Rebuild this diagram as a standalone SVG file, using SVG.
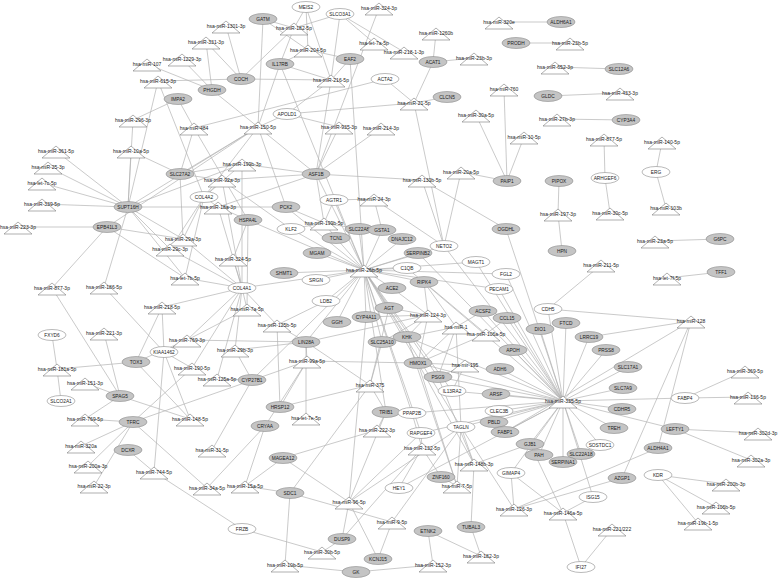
<svg xmlns="http://www.w3.org/2000/svg" width="778" height="579" viewBox="0 0 778 579">
<style>
.e line{stroke:#b3b3b3;stroke-width:0.7}
.g ellipse{fill:#c4c4c4;stroke:#8c8c8c;stroke-width:0.6}
.w ellipse{fill:#fff;stroke:#8c8c8c;stroke-width:0.6}
.m polygon{fill:#fff;stroke:#7a7a7a;stroke-width:0.6}
text{font-family:"Liberation Sans",Arial,sans-serif;fill:#222;text-anchor:middle}
.g text,.w text{font-size:4.8px}
.m text{font-size:5px}
</style>
<rect width="778" height="579" fill="#fff"/>
<g id="edges" class="e">
<line x1="226" y1="26" x2="241" y2="79"/><line x1="206" y1="42" x2="241" y2="79"/><line x1="206" y1="42" x2="212" y2="90"/><line x1="182" y1="59" x2="212" y2="90"/><line x1="147" y1="64" x2="212" y2="90"/><line x1="158" y1="81" x2="241" y2="79"/><line x1="158" y1="81" x2="128" y2="207"/><line x1="158" y1="81" x2="204" y2="197"/><line x1="178" y1="99" x2="133" y2="120"/><line x1="178" y1="99" x2="194" y2="128"/><line x1="212" y1="90" x2="258" y2="127"/><line x1="241" y1="79" x2="331" y2="80"/><line x1="241" y1="79" x2="294" y2="28"/><line x1="263" y1="19" x2="258" y2="127"/><line x1="263" y1="19" x2="294" y2="28"/><line x1="263" y1="19" x2="308" y2="50"/><line x1="306" y1="7" x2="294" y2="28"/><line x1="306" y1="7" x2="308" y2="50"/><line x1="306" y1="7" x2="331" y2="80"/><line x1="340" y1="14" x2="294" y2="28"/><line x1="340" y1="14" x2="374" y2="43"/><line x1="340" y1="14" x2="404" y2="52"/><line x1="340" y1="14" x2="331" y2="80"/><line x1="379" y1="8" x2="316" y2="174"/><line x1="350" y1="59" x2="331" y2="80"/><line x1="350" y1="59" x2="308" y2="50"/><line x1="350" y1="59" x2="364" y2="270"/><line x1="280" y1="64" x2="331" y2="80"/><line x1="280" y1="64" x2="294" y2="28"/><line x1="280" y1="64" x2="258" y2="127"/><line x1="280" y1="64" x2="364" y2="270"/><line x1="280" y1="64" x2="308" y2="50"/><line x1="436" y1="33" x2="433" y2="62"/><line x1="433" y1="62" x2="474" y2="58"/><line x1="433" y1="62" x2="414" y2="103"/><line x1="385" y1="79" x2="414" y2="103"/><line x1="385" y1="79" x2="194" y2="128"/><line x1="447" y1="97" x2="414" y2="103"/><line x1="287" y1="114" x2="414" y2="103"/><line x1="287" y1="114" x2="258" y2="127"/><line x1="287" y1="114" x2="339" y2="127"/><line x1="287" y1="114" x2="331" y2="80"/><line x1="414" y1="103" x2="444" y2="246"/><line x1="499" y1="22" x2="561" y2="22"/><line x1="516" y1="43" x2="570" y2="43"/><line x1="555" y1="67" x2="619" y2="69"/><line x1="548" y1="96" x2="620" y2="93"/><line x1="557" y1="119" x2="626" y2="120"/><line x1="504" y1="89" x2="507" y2="181"/><line x1="476" y1="115" x2="507" y2="181"/><line x1="524" y1="137" x2="507" y2="181"/><line x1="461" y1="172" x2="507" y2="181"/><line x1="604" y1="139" x2="605" y2="178"/><line x1="662" y1="142" x2="656" y2="172"/><line x1="656" y1="172" x2="666" y2="208"/><line x1="559" y1="181" x2="558" y2="214"/><line x1="558" y1="214" x2="562" y2="251"/><line x1="605" y1="178" x2="610" y2="213"/><line x1="655" y1="241" x2="720" y2="239"/><line x1="667" y1="278" x2="721" y2="272"/><line x1="601" y1="265" x2="548" y2="309"/>
<line x1="258" y1="127" x2="316" y2="174"/><line x1="258" y1="127" x2="128" y2="207"/><line x1="258" y1="127" x2="180" y2="174"/><line x1="258" y1="127" x2="204" y2="197"/><line x1="258" y1="127" x2="107" y2="227"/><line x1="339" y1="127" x2="316" y2="174"/><line x1="381" y1="128" x2="316" y2="174"/><line x1="331" y1="80" x2="316" y2="174"/><line x1="316" y1="174" x2="422" y2="180"/><line x1="316" y1="174" x2="324" y2="223"/><line x1="316" y1="174" x2="364" y2="270"/><line x1="316" y1="174" x2="218" y2="207"/><line x1="316" y1="174" x2="222" y2="180"/><line x1="316" y1="174" x2="242" y2="164"/><line x1="422" y1="180" x2="444" y2="246"/><line x1="422" y1="180" x2="506" y2="229"/><line x1="461" y1="172" x2="444" y2="246"/><line x1="374" y1="199" x2="334" y2="200"/><line x1="374" y1="199" x2="444" y2="246"/><line x1="334" y1="200" x2="364" y2="270"/><line x1="334" y1="200" x2="324" y2="223"/><line x1="286" y1="207" x2="324" y2="223"/><line x1="286" y1="207" x2="364" y2="270"/><line x1="286" y1="207" x2="258" y2="127"/><line x1="286" y1="207" x2="218" y2="207"/><line x1="291" y1="229" x2="324" y2="223"/><line x1="291" y1="229" x2="364" y2="270"/><line x1="291" y1="229" x2="222" y2="180"/><line x1="248" y1="220" x2="218" y2="207"/><line x1="248" y1="220" x2="247" y2="309"/><line x1="248" y1="220" x2="364" y2="270"/><line x1="180" y1="174" x2="242" y2="164"/><line x1="180" y1="174" x2="183" y2="239"/><line x1="180" y1="174" x2="131" y2="151"/><line x1="180" y1="174" x2="222" y2="180"/><line x1="204" y1="197" x2="222" y2="180"/><line x1="204" y1="197" x2="218" y2="207"/><line x1="204" y1="197" x2="183" y2="239"/><line x1="204" y1="197" x2="170" y2="249"/><line x1="204" y1="197" x2="242" y2="164"/><line x1="204" y1="197" x2="185" y2="278"/>
<line x1="128" y1="207" x2="56" y2="151"/><line x1="128" y1="207" x2="131" y2="151"/><line x1="128" y1="207" x2="48" y2="167"/><line x1="128" y1="207" x2="42" y2="183"/><line x1="128" y1="207" x2="42" y2="204"/><line x1="128" y1="207" x2="218" y2="207"/><line x1="128" y1="207" x2="170" y2="249"/><line x1="128" y1="207" x2="185" y2="278"/><line x1="128" y1="207" x2="104" y2="287"/><line x1="128" y1="207" x2="133" y2="120"/><line x1="128" y1="207" x2="242" y2="164"/><line x1="128" y1="207" x2="183" y2="239"/><line x1="107" y1="227" x2="18" y2="227"/><line x1="107" y1="227" x2="52" y2="288"/><line x1="107" y1="227" x2="185" y2="278"/><line x1="107" y1="227" x2="183" y2="239"/><line x1="194" y1="128" x2="180" y2="174"/><line x1="194" y1="128" x2="248" y2="220"/>
<line x1="242" y1="288" x2="218" y2="207"/><line x1="242" y1="288" x2="183" y2="239"/><line x1="242" y1="288" x2="170" y2="249"/><line x1="242" y1="288" x2="233" y2="259"/><line x1="242" y1="288" x2="185" y2="278"/><line x1="242" y1="288" x2="222" y2="180"/><line x1="242" y1="288" x2="242" y2="164"/><line x1="242" y1="288" x2="162" y2="307"/><line x1="242" y1="288" x2="247" y2="309"/><line x1="242" y1="288" x2="187" y2="340"/><line x1="242" y1="288" x2="235" y2="350"/><line x1="242" y1="288" x2="217" y2="379"/><line x1="242" y1="288" x2="192" y2="368"/><line x1="242" y1="288" x2="364" y2="270"/><line x1="242" y1="288" x2="277" y2="325"/><line x1="233" y1="259" x2="248" y2="220"/><line x1="162" y1="307" x2="164" y2="352"/><line x1="162" y1="307" x2="136" y2="362"/><line x1="104" y1="287" x2="164" y2="352"/><line x1="52" y1="288" x2="120" y2="396"/><line x1="104" y1="333" x2="120" y2="396"/><line x1="52" y1="335" x2="57" y2="369"/><line x1="61" y1="401" x2="57" y2="369"/><line x1="57" y1="369" x2="136" y2="362"/><line x1="85" y1="383" x2="120" y2="396"/><line x1="187" y1="340" x2="164" y2="352"/><line x1="187" y1="340" x2="136" y2="362"/><line x1="247" y1="309" x2="164" y2="352"/><line x1="164" y1="352" x2="192" y2="368"/><line x1="164" y1="352" x2="190" y2="419"/><line x1="164" y1="352" x2="154" y2="472"/><line x1="136" y1="362" x2="190" y2="419"/><line x1="120" y1="396" x2="85" y2="419"/><line x1="120" y1="396" x2="190" y2="419"/><line x1="133" y1="422" x2="85" y2="419"/><line x1="133" y1="422" x2="81" y2="446"/><line x1="133" y1="422" x2="88" y2="466"/><line x1="133" y1="422" x2="94" y2="486"/><line x1="133" y1="422" x2="207" y2="488"/><line x1="133" y1="422" x2="307" y2="361"/><line x1="133" y1="422" x2="192" y2="368"/><line x1="128" y1="450" x2="154" y2="472"/><line x1="154" y1="472" x2="242" y2="529"/>
<line x1="252" y1="380" x2="217" y2="379"/><line x1="252" y1="380" x2="212" y2="450"/><line x1="252" y1="380" x2="235" y2="350"/><line x1="252" y1="380" x2="364" y2="270"/><line x1="265" y1="426" x2="245" y2="486"/><line x1="265" y1="426" x2="207" y2="488"/><line x1="265" y1="426" x2="307" y2="361"/><line x1="280" y1="407" x2="307" y2="361"/><line x1="280" y1="407" x2="370" y2="385"/><line x1="280" y1="407" x2="277" y2="325"/><line x1="306" y1="342" x2="277" y2="325"/><line x1="306" y1="342" x2="307" y2="361"/><line x1="306" y1="342" x2="306" y2="418"/><line x1="306" y1="342" x2="428" y2="315"/><line x1="306" y1="342" x2="364" y2="270"/><line x1="306" y1="342" x2="370" y2="385"/><line x1="306" y1="342" x2="187" y2="340"/><line x1="306" y1="342" x2="235" y2="350"/><line x1="283" y1="458" x2="349" y2="502"/><line x1="283" y1="458" x2="245" y2="486"/><line x1="283" y1="458" x2="377" y2="430"/><line x1="290" y1="493" x2="370" y2="385"/><line x1="290" y1="493" x2="392" y2="522"/><line x1="290" y1="493" x2="285" y2="565"/><line x1="290" y1="493" x2="245" y2="486"/><line x1="242" y1="529" x2="322" y2="552"/><line x1="342" y1="539" x2="349" y2="502"/><line x1="342" y1="539" x2="322" y2="552"/><line x1="342" y1="539" x2="422" y2="448"/><line x1="378" y1="559" x2="349" y2="502"/><line x1="378" y1="559" x2="392" y2="522"/><line x1="356" y1="572" x2="285" y2="565"/><line x1="356" y1="572" x2="433" y2="565"/><line x1="428" y1="531" x2="433" y2="565"/><line x1="428" y1="531" x2="481" y2="556"/><line x1="471" y1="527" x2="481" y2="556"/><line x1="471" y1="527" x2="474" y2="464"/>
<line x1="349" y1="502" x2="386" y2="412"/><line x1="349" y1="502" x2="421" y2="433"/><line x1="349" y1="502" x2="461" y2="427"/><line x1="349" y1="502" x2="366" y2="317"/><line x1="399" y1="488" x2="422" y2="448"/><line x1="399" y1="488" x2="563" y2="401"/><line x1="392" y1="522" x2="461" y2="427"/><line x1="441" y1="477" x2="422" y2="448"/><line x1="441" y1="477" x2="457" y2="486"/><line x1="457" y1="486" x2="461" y2="427"/><line x1="457" y1="486" x2="418" y2="363"/><line x1="457" y1="486" x2="407" y2="337"/><line x1="474" y1="464" x2="461" y2="427"/><line x1="474" y1="464" x2="418" y2="363"/><line x1="474" y1="464" x2="438" y2="377"/><line x1="474" y1="464" x2="530" y2="444"/><line x1="422" y1="448" x2="421" y2="433"/><line x1="422" y1="448" x2="412" y2="413"/><line x1="377" y1="430" x2="386" y2="412"/><line x1="370" y1="385" x2="386" y2="412"/><line x1="370" y1="385" x2="389" y2="308"/><line x1="370" y1="385" x2="382" y2="342"/>
<line x1="386" y1="412" x2="364" y2="270"/><line x1="412" y1="413" x2="364" y2="270"/><line x1="412" y1="413" x2="563" y2="401"/><line x1="461" y1="427" x2="563" y2="401"/><line x1="461" y1="427" x2="364" y2="270"/><line x1="461" y1="427" x2="456" y2="327"/><line x1="421" y1="433" x2="364" y2="270"/><line x1="421" y1="433" x2="563" y2="401"/><line x1="452" y1="391" x2="364" y2="270"/><line x1="452" y1="391" x2="465" y2="365"/><line x1="452" y1="391" x2="563" y2="401"/><line x1="438" y1="377" x2="465" y2="365"/><line x1="438" y1="377" x2="456" y2="327"/><line x1="438" y1="377" x2="364" y2="270"/><line x1="438" y1="377" x2="563" y2="401"/><line x1="418" y1="363" x2="465" y2="365"/><line x1="418" y1="363" x2="456" y2="327"/><line x1="418" y1="363" x2="428" y2="315"/><line x1="418" y1="363" x2="364" y2="270"/><line x1="418" y1="363" x2="563" y2="401"/><line x1="418" y1="363" x2="486" y2="334"/><line x1="418" y1="363" x2="307" y2="361"/><line x1="407" y1="337" x2="428" y2="315"/><line x1="407" y1="337" x2="456" y2="327"/><line x1="407" y1="337" x2="364" y2="270"/><line x1="407" y1="337" x2="563" y2="401"/><line x1="382" y1="342" x2="364" y2="270"/><line x1="382" y1="342" x2="428" y2="315"/><line x1="389" y1="308" x2="364" y2="270"/><line x1="389" y1="308" x2="428" y2="315"/><line x1="366" y1="317" x2="364" y2="270"/><line x1="366" y1="317" x2="428" y2="315"/><line x1="337" y1="322" x2="364" y2="270"/><line x1="326" y1="301" x2="364" y2="270"/><line x1="326" y1="301" x2="277" y2="325"/><line x1="316" y1="280" x2="364" y2="270"/><line x1="284" y1="273" x2="364" y2="270"/><line x1="317" y1="253" x2="364" y2="270"/><line x1="336" y1="238" x2="364" y2="270"/><line x1="359" y1="229" x2="364" y2="270"/><line x1="382" y1="230" x2="364" y2="270"/><line x1="402" y1="239" x2="364" y2="270"/><line x1="418" y1="253" x2="364" y2="270"/><line x1="407" y1="268" x2="364" y2="270"/><line x1="424" y1="282" x2="364" y2="270"/><line x1="392" y1="288" x2="364" y2="270"/><line x1="476" y1="262" x2="364" y2="270"/><line x1="506" y1="274" x2="364" y2="270"/><line x1="499" y1="289" x2="364" y2="270"/><line x1="444" y1="246" x2="364" y2="270"/><line x1="359" y1="229" x2="324" y2="223"/><line x1="336" y1="238" x2="324" y2="223"/><line x1="424" y1="282" x2="428" y2="315"/><line x1="424" y1="282" x2="456" y2="327"/><line x1="424" y1="282" x2="486" y2="334"/><line x1="392" y1="288" x2="428" y2="315"/><line x1="382" y1="230" x2="374" y2="199"/>
<line x1="483" y1="311" x2="456" y2="327"/><line x1="483" y1="311" x2="563" y2="401"/><line x1="507" y1="318" x2="563" y2="401"/><line x1="507" y1="318" x2="486" y2="334"/><line x1="513" y1="350" x2="563" y2="401"/><line x1="500" y1="369" x2="563" y2="401"/><line x1="496" y1="394" x2="563" y2="401"/><line x1="499" y1="411" x2="563" y2="401"/><line x1="494" y1="422" x2="563" y2="401"/><line x1="505" y1="432" x2="563" y2="401"/><line x1="548" y1="309" x2="563" y2="401"/><line x1="548" y1="309" x2="691" y2="321"/><line x1="540" y1="329" x2="563" y2="401"/><line x1="566" y1="323" x2="563" y2="401"/><line x1="589" y1="337" x2="563" y2="401"/><line x1="589" y1="337" x2="691" y2="321"/><line x1="606" y1="350" x2="563" y2="401"/><line x1="628" y1="367" x2="563" y2="401"/><line x1="623" y1="388" x2="563" y2="401"/><line x1="622" y1="409" x2="563" y2="401"/><line x1="614" y1="428" x2="563" y2="401"/><line x1="675" y1="429" x2="563" y2="401"/><line x1="530" y1="444" x2="563" y2="401"/><line x1="539" y1="455" x2="563" y2="401"/><line x1="563" y1="462" x2="563" y2="401"/><line x1="581" y1="454" x2="563" y2="401"/><line x1="600" y1="445" x2="563" y2="401"/><line x1="511" y1="473" x2="563" y2="401"/><line x1="563" y1="401" x2="593" y2="497"/><line x1="593" y1="497" x2="563" y2="513"/><line x1="563" y1="513" x2="581" y2="567"/><line x1="612" y1="529" x2="581" y2="567"/><line x1="563" y1="513" x2="511" y2="473"/><line x1="563" y1="513" x2="530" y2="444"/><line x1="514" y1="509" x2="658" y2="448"/><line x1="514" y1="509" x2="622" y2="478"/><line x1="514" y1="509" x2="511" y2="473"/><line x1="514" y1="509" x2="461" y2="427"/><line x1="691" y1="321" x2="658" y2="448"/><line x1="691" y1="321" x2="622" y2="478"/><line x1="691" y1="321" x2="505" y2="432"/><line x1="685" y1="398" x2="745" y2="371"/><line x1="685" y1="398" x2="748" y2="397"/><line x1="685" y1="398" x2="563" y2="401"/><line x1="675" y1="429" x2="758" y2="433"/><line x1="675" y1="429" x2="751" y2="460"/><line x1="658" y1="475" x2="726" y2="484"/><line x1="658" y1="475" x2="716" y2="507"/><line x1="658" y1="475" x2="698" y2="523"/><line x1="506" y1="229" x2="563" y2="401"/><line x1="444" y1="246" x2="563" y2="401"/><line x1="476" y1="262" x2="563" y2="401"/><line x1="506" y1="274" x2="563" y2="401"/><line x1="499" y1="289" x2="563" y2="401"/><line x1="418" y1="253" x2="563" y2="401"/><line x1="407" y1="268" x2="563" y2="401"/>
</g>
<g id="nodes">
<g id="n-GATM" class="g"><ellipse cx="263" cy="19" rx="14" ry="5.5"/><text x="263" y="20.7">GATM</text></g>
<g id="n-MEIS2" class="w"><ellipse cx="306" cy="7" rx="14" ry="5.5"/><text x="306" y="8.7">MEIS2</text></g>
<g id="n-SLCO3A1" class="w"><ellipse cx="340" cy="14" rx="14" ry="5.5"/><text x="340" y="15.7">SLCO3A1</text></g>
<g id="n-EAF2" class="g"><ellipse cx="350" cy="59" rx="14" ry="5.5"/><text x="350" y="60.7">EAF2</text></g>
<g id="n-IL17RB" class="g"><ellipse cx="280" cy="64" rx="14" ry="5.5"/><text x="280" y="65.7">IL17RB</text></g>
<g id="n-ACAT1" class="g"><ellipse cx="433" cy="62" rx="14" ry="5.5"/><text x="433" y="63.7">ACAT1</text></g>
<g id="n-ACTA2" class="w"><ellipse cx="385" cy="79" rx="14" ry="5.5"/><text x="385" y="80.7">ACTA2</text></g>
<g id="n-CLCN5" class="g"><ellipse cx="447" cy="97" rx="14" ry="5.5"/><text x="447" y="98.7">CLCN5</text></g>
<g id="n-APOLD1" class="w"><ellipse cx="287" cy="114" rx="14" ry="5.5"/><text x="287" y="115.7">APOLD1</text></g>
<g id="n-COCH" class="g"><ellipse cx="241" cy="79" rx="14" ry="5.5"/><text x="241" y="80.7">COCH</text></g>
<g id="n-PHGDH" class="g"><ellipse cx="212" cy="90" rx="14" ry="5.5"/><text x="212" y="91.7">PHGDH</text></g>
<g id="n-IMPA2" class="g"><ellipse cx="178" cy="99" rx="14" ry="5.5"/><text x="178" y="100.7">IMPA2</text></g>
<g id="n-ALDH6A1" class="g"><ellipse cx="561" cy="22" rx="14" ry="5.5"/><text x="561" y="23.7">ALDH6A1</text></g>
<g id="n-PRODH" class="g"><ellipse cx="516" cy="43" rx="14" ry="5.5"/><text x="516" y="44.7">PRODH</text></g>
<g id="n-SLC12A6" class="g"><ellipse cx="619" cy="69" rx="14" ry="5.5"/><text x="619" y="70.7">SLC12A6</text></g>
<g id="n-GLDC" class="g"><ellipse cx="548" cy="96" rx="14" ry="5.5"/><text x="548" y="97.7">GLDC</text></g>
<g id="n-CYP3A4" class="g"><ellipse cx="626" cy="120" rx="14" ry="5.5"/><text x="626" y="121.7">CYP3A4</text></g>
<g id="n-SLC27A2" class="g"><ellipse cx="180" cy="174" rx="14" ry="5.5"/><text x="180" y="175.7">SLC27A2</text></g>
<g id="n-COL4A2" class="w"><ellipse cx="204" cy="197" rx="14" ry="5.5"/><text x="204" y="198.7">COL4A2</text></g>
<g id="n-SUPT16H" class="g"><ellipse cx="128" cy="207" rx="14" ry="5.5"/><text x="128" y="208.7">SUPT16H</text></g>
<g id="n-HSPA4L" class="g"><ellipse cx="248" cy="220" rx="14" ry="5.5"/><text x="248" y="221.7">HSPA4L</text></g>
<g id="n-EPB41L3" class="g"><ellipse cx="107" cy="227" rx="14" ry="5.5"/><text x="107" y="228.7">EPB41L3</text></g>
<g id="n-COL4A1" class="w"><ellipse cx="242" cy="288" rx="14" ry="5.5"/><text x="242" y="289.7">COL4A1</text></g>
<g id="n-ASF1B" class="g"><ellipse cx="316" cy="174" rx="14" ry="5.5"/><text x="316" y="175.7">ASF1B</text></g>
<g id="n-PAIP1" class="g"><ellipse cx="507" cy="181" rx="14" ry="5.5"/><text x="507" y="182.7">PAIP1</text></g>
<g id="n-AGTR1" class="w"><ellipse cx="334" cy="200" rx="14" ry="5.5"/><text x="334" y="201.7">AGTR1</text></g>
<g id="n-PCK2" class="g"><ellipse cx="286" cy="207" rx="14" ry="5.5"/><text x="286" y="208.7">PCK2</text></g>
<g id="n-KLF2" class="w"><ellipse cx="291" cy="229" rx="14" ry="5.5"/><text x="291" y="230.7">KLF2</text></g>
<g id="n-SLC22A8" class="g"><ellipse cx="359" cy="229" rx="14" ry="5.5"/><text x="359" y="230.7">SLC22A8</text></g>
<g id="n-GSTA1" class="g"><ellipse cx="382" cy="230" rx="14" ry="5.5"/><text x="382" y="231.7">GSTA1</text></g>
<g id="n-TCN1" class="g"><ellipse cx="336" cy="238" rx="14" ry="5.5"/><text x="336" y="239.7">TCN1</text></g>
<g id="n-DNAJC12" class="g"><ellipse cx="402" cy="239" rx="14" ry="5.5"/><text x="402" y="240.7">DNAJC12</text></g>
<g id="n-NETO2" class="w"><ellipse cx="444" cy="246" rx="14" ry="5.5"/><text x="444" y="247.7">NETO2</text></g>
<g id="n-OGDHL" class="g"><ellipse cx="506" cy="229" rx="14" ry="5.5"/><text x="506" y="230.7">OGDHL</text></g>
<g id="n-MGAM" class="g"><ellipse cx="317" cy="253" rx="14" ry="5.5"/><text x="317" y="254.7">MGAM</text></g>
<g id="n-SERPINB2" class="g"><ellipse cx="418" cy="253" rx="14" ry="5.5"/><text x="418" y="254.7">SERPINB2</text></g>
<g id="n-MAGT1" class="w"><ellipse cx="476" cy="262" rx="14" ry="5.5"/><text x="476" y="263.7">MAGT1</text></g>
<g id="n-C1QB" class="w"><ellipse cx="407" cy="268" rx="14" ry="5.5"/><text x="407" y="269.7">C1QB</text></g>
<g id="n-SHMT1" class="g"><ellipse cx="284" cy="273" rx="14" ry="5.5"/><text x="284" y="274.7">SHMT1</text></g>
<g id="n-SRGN" class="w"><ellipse cx="316" cy="280" rx="14" ry="5.5"/><text x="316" y="281.7">SRGN</text></g>
<g id="n-FGL2" class="w"><ellipse cx="506" cy="274" rx="14" ry="5.5"/><text x="506" y="275.7">FGL2</text></g>
<g id="n-RIPK4" class="g"><ellipse cx="424" cy="282" rx="14" ry="5.5"/><text x="424" y="283.7">RIPK4</text></g>
<g id="n-ACE2" class="g"><ellipse cx="392" cy="288" rx="14" ry="5.5"/><text x="392" y="289.7">ACE2</text></g>
<g id="n-PECAM1" class="w"><ellipse cx="499" cy="289" rx="14" ry="5.5"/><text x="499" y="290.7">PECAM1</text></g>
<g id="n-PIPOX" class="g"><ellipse cx="559" cy="181" rx="14" ry="5.5"/><text x="559" y="182.7">PIPOX</text></g>
<g id="n-ARHGEF6" class="w"><ellipse cx="605" cy="178" rx="14" ry="5.5"/><text x="605" y="179.7">ARHGEF6</text></g>
<g id="n-ERG" class="w"><ellipse cx="656" cy="172" rx="14" ry="5.5"/><text x="656" y="173.7">ERG</text></g>
<g id="n-HPN" class="g"><ellipse cx="562" cy="251" rx="14" ry="5.5"/><text x="562" y="252.7">HPN</text></g>
<g id="n-G6PC" class="g"><ellipse cx="720" cy="239" rx="14" ry="5.5"/><text x="720" y="240.7">G6PC</text></g>
<g id="n-TFF1" class="g"><ellipse cx="721" cy="272" rx="14" ry="5.5"/><text x="721" y="273.7">TFF1</text></g>
<g id="n-FXYD6" class="w"><ellipse cx="52" cy="335" rx="14" ry="5.5"/><text x="52" y="336.7">FXYD6</text></g>
<g id="n-KIAA1462" class="w"><ellipse cx="164" cy="352" rx="14" ry="5.5"/><text x="164" y="353.7">KIAA1462</text></g>
<g id="n-TOX3" class="g"><ellipse cx="136" cy="362" rx="14" ry="5.5"/><text x="136" y="363.7">TOX3</text></g>
<g id="n-CYP27B1" class="g"><ellipse cx="252" cy="380" rx="14" ry="5.5"/><text x="252" y="381.7">CYP27B1</text></g>
<g id="n-SLCO2A1" class="w"><ellipse cx="61" cy="401" rx="14" ry="5.5"/><text x="61" y="402.7">SLCO2A1</text></g>
<g id="n-SPAG5" class="g"><ellipse cx="120" cy="396" rx="14" ry="5.5"/><text x="120" y="397.7">SPAG5</text></g>
<g id="n-TFRC" class="g"><ellipse cx="133" cy="422" rx="14" ry="5.5"/><text x="133" y="423.7">TFRC</text></g>
<g id="n-CRYAA" class="g"><ellipse cx="265" cy="426" rx="14" ry="5.5"/><text x="265" y="427.7">CRYAA</text></g>
<g id="n-LDB2" class="w"><ellipse cx="326" cy="301" rx="14" ry="5.5"/><text x="326" y="302.7">LDB2</text></g>
<g id="n-AGT" class="g"><ellipse cx="389" cy="308" rx="14" ry="5.5"/><text x="389" y="309.7">AGT</text></g>
<g id="n-ACSF2" class="g"><ellipse cx="483" cy="311" rx="14" ry="5.5"/><text x="483" y="312.7">ACSF2</text></g>
<g id="n-CYP4A11" class="g"><ellipse cx="366" cy="317" rx="14" ry="5.5"/><text x="366" y="318.7">CYP4A11</text></g>
<g id="n-GGH" class="g"><ellipse cx="337" cy="322" rx="14" ry="5.5"/><text x="337" y="323.7">GGH</text></g>
<g id="n-CCL15" class="g"><ellipse cx="507" cy="318" rx="14" ry="5.5"/><text x="507" y="319.7">CCL15</text></g>
<g id="n-LIN28A" class="g"><ellipse cx="306" cy="342" rx="14" ry="5.5"/><text x="306" y="343.7">LIN28A</text></g>
<g id="n-SLC25A10" class="g"><ellipse cx="382" cy="342" rx="14" ry="5.5"/><text x="382" y="343.7">SLC25A10</text></g>
<g id="n-KHK" class="g"><ellipse cx="407" cy="337" rx="14" ry="5.5"/><text x="407" y="338.7">KHK</text></g>
<g id="n-APOH" class="g"><ellipse cx="513" cy="350" rx="14" ry="5.5"/><text x="513" y="351.7">APOH</text></g>
<g id="n-HMOX1" class="g"><ellipse cx="418" cy="363" rx="14" ry="5.5"/><text x="418" y="364.7">HMOX1</text></g>
<g id="n-ADH6" class="g"><ellipse cx="500" cy="369" rx="14" ry="5.5"/><text x="500" y="370.7">ADH6</text></g>
<g id="n-PSG9" class="g"><ellipse cx="438" cy="377" rx="14" ry="5.5"/><text x="438" y="378.7">PSG9</text></g>
<g id="n-IL13RA2" class="w"><ellipse cx="452" cy="391" rx="14" ry="5.5"/><text x="452" y="392.7">IL13RA2</text></g>
<g id="n-ARSF" class="g"><ellipse cx="496" cy="394" rx="14" ry="5.5"/><text x="496" y="395.7">ARSF</text></g>
<g id="n-HRSP12" class="g"><ellipse cx="280" cy="407" rx="14" ry="5.5"/><text x="280" y="408.7">HRSP12</text></g>
<g id="n-TRIB1" class="g"><ellipse cx="386" cy="412" rx="14" ry="5.5"/><text x="386" y="413.7">TRIB1</text></g>
<g id="n-PPAP2B" class="w"><ellipse cx="412" cy="413" rx="14" ry="5.5"/><text x="412" y="414.7">PPAP2B</text></g>
<g id="n-CLEC3B" class="w"><ellipse cx="499" cy="411" rx="14" ry="5.5"/><text x="499" y="412.7">CLEC3B</text></g>
<g id="n-PBLD" class="g"><ellipse cx="494" cy="422" rx="14" ry="5.5"/><text x="494" y="423.7">PBLD</text></g>
<g id="n-TAGLN" class="w"><ellipse cx="461" cy="427" rx="14" ry="5.5"/><text x="461" y="428.7">TAGLN</text></g>
<g id="n-RAPGEF4" class="w"><ellipse cx="421" cy="433" rx="14" ry="5.5"/><text x="421" y="434.7">RAPGEF4</text></g>
<g id="n-FABP1" class="g"><ellipse cx="505" cy="432" rx="14" ry="5.5"/><text x="505" y="433.7">FABP1</text></g>
<g id="n-CDH5" class="w"><ellipse cx="548" cy="309" rx="14" ry="5.5"/><text x="548" y="310.7">CDH5</text></g>
<g id="n-FTCD" class="g"><ellipse cx="566" cy="323" rx="14" ry="5.5"/><text x="566" y="324.7">FTCD</text></g>
<g id="n-DIO1" class="g"><ellipse cx="540" cy="329" rx="14" ry="5.5"/><text x="540" y="330.7">DIO1</text></g>
<g id="n-LRRC19" class="g"><ellipse cx="589" cy="337" rx="14" ry="5.5"/><text x="589" y="338.7">LRRC19</text></g>
<g id="n-PRSS8" class="g"><ellipse cx="606" cy="350" rx="14" ry="5.5"/><text x="606" y="351.7">PRSS8</text></g>
<g id="n-SLC17A1" class="g"><ellipse cx="628" cy="367" rx="14" ry="5.5"/><text x="628" y="368.7">SLC17A1</text></g>
<g id="n-SLC7A9" class="g"><ellipse cx="623" cy="388" rx="14" ry="5.5"/><text x="623" y="389.7">SLC7A9</text></g>
<g id="n-FABP4" class="w"><ellipse cx="685" cy="398" rx="14" ry="5.5"/><text x="685" y="399.7">FABP4</text></g>
<g id="n-CDHR5" class="g"><ellipse cx="622" cy="409" rx="14" ry="5.5"/><text x="622" y="410.7">CDHR5</text></g>
<g id="n-TREH" class="g"><ellipse cx="614" cy="428" rx="14" ry="5.5"/><text x="614" y="429.7">TREH</text></g>
<g id="n-LEFTY1" class="g"><ellipse cx="675" cy="429" rx="14" ry="5.5"/><text x="675" y="430.7">LEFTY1</text></g>
<g id="n-GJB1" class="g"><ellipse cx="530" cy="444" rx="14" ry="5.5"/><text x="530" y="445.7">GJB1</text></g>
<g id="n-PAH" class="g"><ellipse cx="539" cy="455" rx="14" ry="5.5"/><text x="539" y="456.7">PAH</text></g>
<g id="n-SOSTDC1" class="w"><ellipse cx="600" cy="445" rx="14" ry="5.5"/><text x="600" y="446.7">SOSTDC1</text></g>
<g id="n-SLC22A18" class="g"><ellipse cx="581" cy="454" rx="14" ry="5.5"/><text x="581" y="455.7">SLC22A18</text></g>
<g id="n-SERPINA1" class="g"><ellipse cx="563" cy="462" rx="14" ry="5.5"/><text x="563" y="463.7">SERPINA1</text></g>
<g id="n-ALDH4A1" class="g"><ellipse cx="658" cy="448" rx="14" ry="5.5"/><text x="658" y="449.7">ALDH4A1</text></g>
<g id="n-AZGP1" class="g"><ellipse cx="622" cy="478" rx="14" ry="5.5"/><text x="622" y="479.7">AZGP1</text></g>
<g id="n-KDR" class="w"><ellipse cx="658" cy="475" rx="14" ry="5.5"/><text x="658" y="476.7">KDR</text></g>
<g id="n-ISG15" class="w"><ellipse cx="593" cy="497" rx="14" ry="5.5"/><text x="593" y="498.7">ISG15</text></g>
<g id="n-GIMAP4" class="w"><ellipse cx="511" cy="473" rx="14" ry="5.5"/><text x="511" y="474.7">GIMAP4</text></g>
<g id="n-IFI27" class="w"><ellipse cx="581" cy="567" rx="14" ry="5.5"/><text x="581" y="568.7">IFI27</text></g>
<g id="n-DCXR" class="g"><ellipse cx="128" cy="450" rx="14" ry="5.5"/><text x="128" y="451.7">DCXR</text></g>
<g id="n-FRZB" class="w"><ellipse cx="242" cy="529" rx="14" ry="5.5"/><text x="242" y="530.7">FRZB</text></g>
<g id="n-MAGEA12" class="g"><ellipse cx="283" cy="458" rx="14" ry="5.5"/><text x="283" y="459.7">MAGEA12</text></g>
<g id="n-SDC1" class="g"><ellipse cx="290" cy="493" rx="14" ry="5.5"/><text x="290" y="494.7">SDC1</text></g>
<g id="n-ZNF160" class="g"><ellipse cx="441" cy="477" rx="14" ry="5.5"/><text x="441" y="478.7">ZNF160</text></g>
<g id="n-HEY1" class="w"><ellipse cx="399" cy="488" rx="14" ry="5.5"/><text x="399" y="489.7">HEY1</text></g>
<g id="n-ETNK2" class="g"><ellipse cx="428" cy="531" rx="14" ry="5.5"/><text x="428" y="532.7">ETNK2</text></g>
<g id="n-TUBAL3" class="g"><ellipse cx="471" cy="527" rx="14" ry="5.5"/><text x="471" y="528.7">TUBAL3</text></g>
<g id="n-DUSP9" class="g"><ellipse cx="342" cy="539" rx="14" ry="5.5"/><text x="342" y="540.7">DUSP9</text></g>
<g id="n-KCNJ15" class="g"><ellipse cx="378" cy="559" rx="14" ry="5.5"/><text x="378" y="560.7">KCNJ15</text></g>
<g id="n-GK" class="g"><ellipse cx="356" cy="572" rx="14" ry="5.5"/><text x="356" y="573.7">GK</text></g>

<g id="n-hsa-miR-1301-3p" class="m"><polygon points="226,21 212,33 240,33"/><text x="226" y="27.8">hsa-miR-1301-3p</text></g>
<g id="n-hsa-miR-331-3p" class="m"><polygon points="206,37 192,49 220,49"/><text x="206" y="43.8">hsa-miR-331-3p</text></g>
<g id="n-hsa-miR-1229-3p" class="m"><polygon points="182,54 168,66 196,66"/><text x="182" y="60.8">hsa-miR-1229-3p</text></g>
<g id="n-hsa-miR-107" class="m"><polygon points="147,59 133,71 161,71"/><text x="147" y="65.8">hsa-miR-107</text></g>
<g id="n-hsa-miR-615-3p" class="m"><polygon points="158,76 144,88 172,88"/><text x="158" y="82.8">hsa-miR-615-3p</text></g>
<g id="n-hsa-miR-296-3p" class="m"><polygon points="133,115 119,127 147,127"/><text x="133" y="121.8">hsa-miR-296-3p</text></g>
<g id="n-hsa-miR-484" class="m"><polygon points="194,123 180,135 208,135"/><text x="194" y="129.8">hsa-miR-484</text></g>
<g id="n-hsa-miR-150-5p" class="m"><polygon points="258,122 244,134 272,134"/><text x="258" y="128.8">hsa-miR-150-5p</text></g>
<g id="n-hsa-miR-182-5p" class="m"><polygon points="294,23 280,35 308,35"/><text x="294" y="29.8">hsa-miR-182-5p</text></g>
<g id="n-hsa-miR-324-3p" class="m"><polygon points="379,3 365,15 393,15"/><text x="379" y="9.8">hsa-miR-324-3p</text></g>
<g id="n-hsa-miR-320e" class="m"><polygon points="499,17 485,29 513,29"/><text x="499" y="23.8">hsa-miR-320e</text></g>
<g id="n-hsa-miR-1260b" class="m"><polygon points="436,28 422,40 450,40"/><text x="436" y="34.8">hsa-miR-1260b</text></g>
<g id="n-hsa-let-7a-5p" class="m"><polygon points="374,38 360,50 388,50"/><text x="374" y="44.8">hsa-let-7a-5p</text></g>
<g id="n-hsa-miR-218-1-3p" class="m"><polygon points="404,47 390,59 418,59"/><text x="404" y="53.8">hsa-miR-218-1-3p</text></g>
<g id="n-hsa-miR-204-5p" class="m"><polygon points="308,45 294,57 322,57"/><text x="308" y="51.8">hsa-miR-204-5p</text></g>
<g id="n-hsa-miR-23b-3p" class="m"><polygon points="474,53 460,65 488,65"/><text x="474" y="59.8">hsa-miR-23b-3p</text></g>
<g id="n-hsa-miR-216-5p" class="m"><polygon points="331,75 317,87 345,87"/><text x="331" y="81.8">hsa-miR-216-5p</text></g>
<g id="n-hsa-miR-760" class="m"><polygon points="504,84 490,96 518,96"/><text x="504" y="90.8">hsa-miR-760</text></g>
<g id="n-hsa-miR-21-5p" class="m"><polygon points="414,98 400,110 428,110"/><text x="414" y="104.8">hsa-miR-21-5p</text></g>
<g id="n-hsa-miR-30a-5p" class="m"><polygon points="476,110 462,122 490,122"/><text x="476" y="116.8">hsa-miR-30a-5p</text></g>
<g id="n-hsa-miR-935-3p" class="m"><polygon points="339,122 325,134 353,134"/><text x="339" y="128.8">hsa-miR-935-3p</text></g>
<g id="n-hsa-miR-214-3p" class="m"><polygon points="381,123 367,135 395,135"/><text x="381" y="129.8">hsa-miR-214-3p</text></g>
<g id="n-hsa-miR-23b-5p" class="m"><polygon points="570,38 556,50 584,50"/><text x="570" y="44.8">hsa-miR-23b-5p</text></g>
<g id="n-hsa-miR-652-3p" class="m"><polygon points="555,62 541,74 569,74"/><text x="555" y="68.8">hsa-miR-652-3p</text></g>
<g id="n-hsa-miR-433-3p" class="m"><polygon points="620,88 606,100 634,100"/><text x="620" y="94.8">hsa-miR-433-3p</text></g>
<g id="n-hsa-miR-27b-3p" class="m"><polygon points="557,114 543,126 571,126"/><text x="557" y="120.8">hsa-miR-27b-3p</text></g>
<g id="n-hsa-miR-10-5p" class="m"><polygon points="524,132 510,144 538,144"/><text x="524" y="138.8">hsa-miR-10-5p</text></g>
<g id="n-hsa-miR-877-5p" class="m"><polygon points="604,134 590,146 618,146"/><text x="604" y="140.8">hsa-miR-877-5p</text></g>
<g id="n-hsa-miR-140-5p" class="m"><polygon points="662,137 648,149 676,149"/><text x="662" y="143.8">hsa-miR-140-5p</text></g>
<g id="n-hsa-miR-361-5p" class="m"><polygon points="56,146 42,158 70,158"/><text x="56" y="152.8">hsa-miR-361-5p</text></g>
<g id="n-hsa-miR-10a-5p" class="m"><polygon points="131,146 117,158 145,158"/><text x="131" y="152.8">hsa-miR-10a-5p</text></g>
<g id="n-hsa-miR-25-3p" class="m"><polygon points="48,162 34,174 62,174"/><text x="48" y="168.8">hsa-miR-25-3p</text></g>
<g id="n-hsa-miR-199b-3p" class="m"><polygon points="242,159 228,171 256,171"/><text x="242" y="165.8">hsa-miR-199b-3p</text></g>
<g id="n-hsa-miR-92a-3p" class="m"><polygon points="222,175 208,187 236,187"/><text x="222" y="181.8">hsa-miR-92a-3p</text></g>
<g id="n-hsa-let-7c-5p" class="m"><polygon points="42,178 28,190 56,190"/><text x="42" y="184.8">hsa-let-7c-5p</text></g>
<g id="n-hsa-miR-339-5p" class="m"><polygon points="42,199 28,211 56,211"/><text x="42" y="205.8">hsa-miR-339-5p</text></g>
<g id="n-hsa-miR-18a-3p" class="m"><polygon points="218,202 204,214 232,214"/><text x="218" y="208.8">hsa-miR-18a-3p</text></g>
<g id="n-hsa-miR-223-3p" class="m"><polygon points="18,222 4,234 32,234"/><text x="18" y="228.8">hsa-miR-223-3p</text></g>
<g id="n-hsa-miR-29a-3p" class="m"><polygon points="183,234 169,246 197,246"/><text x="183" y="240.8">hsa-miR-29a-3p</text></g>
<g id="n-hsa-miR-29c-3p" class="m"><polygon points="170,244 156,256 184,256"/><text x="170" y="250.8">hsa-miR-29c-3p</text></g>
<g id="n-hsa-miR-324-5p" class="m"><polygon points="233,254 219,266 247,266"/><text x="233" y="260.8">hsa-miR-324-5p</text></g>
<g id="n-hsa-let-7b-5p" class="m"><polygon points="185,273 171,285 199,285"/><text x="185" y="279.8">hsa-let-7b-5p</text></g>
<g id="n-hsa-miR-877-3p" class="m"><polygon points="52,283 38,295 66,295"/><text x="52" y="289.8">hsa-miR-877-3p</text></g>
<g id="n-hsa-miR-186-5p" class="m"><polygon points="104,282 90,294 118,294"/><text x="104" y="288.8">hsa-miR-186-5p</text></g>
<g id="n-hsa-miR-130b-5p" class="m"><polygon points="422,175 408,187 436,187"/><text x="422" y="181.8">hsa-miR-130b-5p</text></g>
<g id="n-hsa-miR-20a-5p" class="m"><polygon points="461,167 447,179 475,179"/><text x="461" y="173.8">hsa-miR-20a-5p</text></g>
<g id="n-hsa-miR-24-3p" class="m"><polygon points="374,194 360,206 388,206"/><text x="374" y="200.8">hsa-miR-24-3p</text></g>
<g id="n-hsa-miR-199b-5p" class="m"><polygon points="324,218 310,230 338,230"/><text x="324" y="224.8">hsa-miR-199b-5p</text></g>
<g id="n-hsa-miR-26b-5p" class="m"><polygon points="364,265 350,277 378,277"/><text x="364" y="271.8">hsa-miR-26b-5p</text></g>
<g id="n-hsa-miR-197-3p" class="m"><polygon points="558,209 544,221 572,221"/><text x="558" y="215.8">hsa-miR-197-3p</text></g>
<g id="n-hsa-miR-30c-5p" class="m"><polygon points="610,208 596,220 624,220"/><text x="610" y="214.8">hsa-miR-30c-5p</text></g>
<g id="n-hsa-miR-103b" class="m"><polygon points="666,203 652,215 680,215"/><text x="666" y="209.8">hsa-miR-103b</text></g>
<g id="n-hsa-miR-23a-5p" class="m"><polygon points="655,236 641,248 669,248"/><text x="655" y="242.8">hsa-miR-23a-5p</text></g>
<g id="n-hsa-miR-211-5p" class="m"><polygon points="601,260 587,272 615,272"/><text x="601" y="266.8">hsa-miR-211-5p</text></g>
<g id="n-hsa-let-7f-5p" class="m"><polygon points="667,273 653,285 681,285"/><text x="667" y="279.8">hsa-let-7f-5p</text></g>
<g id="n-hsa-miR-218-5p" class="m"><polygon points="162,302 148,314 176,314"/><text x="162" y="308.8">hsa-miR-218-5p</text></g>
<g id="n-hsa-miR-7a-5p" class="m"><polygon points="247,304 233,316 261,316"/><text x="247" y="310.8">hsa-miR-7a-5p</text></g>
<g id="n-hsa-miR-221-3p" class="m"><polygon points="104,328 90,340 118,340"/><text x="104" y="334.8">hsa-miR-221-3p</text></g>
<g id="n-hsa-miR-769-3p" class="m"><polygon points="187,335 173,347 201,347"/><text x="187" y="341.8">hsa-miR-769-3p</text></g>
<g id="n-hsa-miR-29b-3p" class="m"><polygon points="235,345 221,357 249,357"/><text x="235" y="351.8">hsa-miR-29b-3p</text></g>
<g id="n-hsa-miR-181a-5p" class="m"><polygon points="57,364 43,376 71,376"/><text x="57" y="370.8">hsa-miR-181a-5p</text></g>
<g id="n-hsa-miR-190-5p" class="m"><polygon points="192,363 178,375 206,375"/><text x="192" y="369.8">hsa-miR-190-5p</text></g>
<g id="n-hsa-miR-125a-5p" class="m"><polygon points="217,374 203,386 231,386"/><text x="217" y="380.8">hsa-miR-125a-5p</text></g>
<g id="n-hsa-miR-151-3p" class="m"><polygon points="85,378 71,390 99,390"/><text x="85" y="384.8">hsa-miR-151-3p</text></g>
<g id="n-hsa-miR-769-5p" class="m"><polygon points="85,414 71,426 99,426"/><text x="85" y="420.8">hsa-miR-769-5p</text></g>
<g id="n-hsa-miR-148-5p" class="m"><polygon points="190,414 176,426 204,426"/><text x="190" y="420.8">hsa-miR-148-5p</text></g>
<g id="n-hsa-miR-124-3p" class="m"><polygon points="428,310 414,322 442,322"/><text x="428" y="316.8">hsa-miR-124-3p</text></g>
<g id="n-hsa-miR-125b-5p" class="m"><polygon points="277,320 263,332 291,332"/><text x="277" y="326.8">hsa-miR-125b-5p</text></g>
<g id="n-hsa-miR-1" class="m"><polygon points="456,322 442,334 470,334"/><text x="456" y="328.8">hsa-miR-1</text></g>
<g id="n-hsa-miR-106a-5p" class="m"><polygon points="486,329 472,341 500,341"/><text x="486" y="335.8">hsa-miR-106a-5p</text></g>
<g id="n-hsa-miR-99a-5p" class="m"><polygon points="307,356 293,368 321,368"/><text x="307" y="362.8">hsa-miR-99a-5p</text></g>
<g id="n-hsa-mir-195" class="m"><polygon points="465,360 451,372 479,372"/><text x="465" y="366.8">hsa-mir-195</text></g>
<g id="n-hsa-miR-375" class="m"><polygon points="370,380 356,392 384,392"/><text x="370" y="386.8">hsa-miR-375</text></g>
<g id="n-hsa-let-7e-5p" class="m"><polygon points="306,413 292,425 320,425"/><text x="306" y="419.8">hsa-let-7e-5p</text></g>
<g id="n-hsa-miR-222-3p" class="m"><polygon points="377,425 363,437 391,437"/><text x="377" y="431.8">hsa-miR-222-3p</text></g>
<g id="n-hsa-miR-128" class="m"><polygon points="691,316 677,328 705,328"/><text x="691" y="322.8">hsa-miR-128</text></g>
<g id="n-hsa-miR-369-5p" class="m"><polygon points="745,366 731,378 759,378"/><text x="745" y="372.8">hsa-miR-369-5p</text></g>
<g id="n-hsa-miR-136-5p" class="m"><polygon points="748,392 734,404 762,404"/><text x="748" y="398.8">hsa-miR-136-5p</text></g>
<g id="n-hsa-miR-335-5p" class="m"><polygon points="563,396 549,408 577,408"/><text x="563" y="402.8">hsa-miR-335-5p</text></g>
<g id="n-hsa-miR-302d-3p" class="m"><polygon points="758,428 744,440 772,440"/><text x="758" y="434.8">hsa-miR-302d-3p</text></g>
<g id="n-hsa-miR-302a-3p" class="m"><polygon points="751,455 737,467 765,467"/><text x="751" y="461.8">hsa-miR-302a-3p</text></g>
<g id="n-hsa-miR-200b-3p" class="m"><polygon points="726,479 712,491 740,491"/><text x="726" y="485.8">hsa-miR-200b-3p</text></g>
<g id="n-hsa-miR-106b-5p" class="m"><polygon points="716,502 702,514 730,514"/><text x="716" y="508.8">hsa-miR-106b-5p</text></g>
<g id="n-hsa-miR-19b-1-5p" class="m"><polygon points="698,518 684,530 712,530"/><text x="698" y="524.8">hsa-miR-19b-1-5p</text></g>
<g id="n-hsa-miR-146a-5p" class="m"><polygon points="563,508 549,520 577,520"/><text x="563" y="514.8">hsa-miR-146a-5p</text></g>
<g id="n-hsa-miR-126-3p" class="m"><polygon points="514,504 500,516 528,516"/><text x="514" y="510.8">hsa-miR-126-3p</text></g>
<g id="n-hsa-miR-221-222" class="m"><polygon points="612,524 598,536 626,536"/><text x="612" y="530.8">hsa-miR-221/222</text></g>
<g id="n-hsa-miR-320a" class="m"><polygon points="81,441 67,453 95,453"/><text x="81" y="447.8">hsa-miR-320a</text></g>
<g id="n-hsa-miR-31-5p" class="m"><polygon points="212,445 198,457 226,457"/><text x="212" y="451.8">hsa-miR-31-5p</text></g>
<g id="n-hsa-miR-200a-3p" class="m"><polygon points="88,461 74,473 102,473"/><text x="88" y="467.8">hsa-miR-200a-3p</text></g>
<g id="n-hsa-miR-744-5p" class="m"><polygon points="154,467 140,479 168,479"/><text x="154" y="473.8">hsa-miR-744-5p</text></g>
<g id="n-hsa-miR-22-3p" class="m"><polygon points="94,481 80,493 108,493"/><text x="94" y="487.8">hsa-miR-22-3p</text></g>
<g id="n-hsa-miR-34a-5p" class="m"><polygon points="207,483 193,495 221,495"/><text x="207" y="489.8">hsa-miR-34a-5p</text></g>
<g id="n-hsa-miR-15a-5p" class="m"><polygon points="245,481 231,493 259,493"/><text x="245" y="487.8">hsa-miR-15a-5p</text></g>
<g id="n-hsa-miR-132-5p" class="m"><polygon points="422,443 408,455 436,455"/><text x="422" y="449.8">hsa-miR-132-5p</text></g>
<g id="n-hsa-miR-148b-3p" class="m"><polygon points="474,459 460,471 488,471"/><text x="474" y="465.8">hsa-miR-148b-3p</text></g>
<g id="n-hsa-miR-7-5p" class="m"><polygon points="457,481 443,493 471,493"/><text x="457" y="487.8">hsa-miR-7-5p</text></g>
<g id="n-hsa-miR-96-5p" class="m"><polygon points="349,497 335,509 363,509"/><text x="349" y="503.8">hsa-miR-96-5p</text></g>
<g id="n-hsa-miR-9-5p" class="m"><polygon points="392,517 378,529 406,529"/><text x="392" y="523.8">hsa-miR-9-5p</text></g>
<g id="n-hsa-miR-30b-5p" class="m"><polygon points="322,547 308,559 336,559"/><text x="322" y="553.8">hsa-miR-30b-5p</text></g>
<g id="n-hsa-miR-182-3p" class="m"><polygon points="481,551 467,563 495,563"/><text x="481" y="557.8">hsa-miR-182-3p</text></g>
<g id="n-hsa-miR-10b-5p" class="m"><polygon points="285,560 271,572 299,572"/><text x="285" y="566.8">hsa-miR-10b-5p</text></g>
<g id="n-hsa-miR-152-3p" class="m"><polygon points="433,560 419,572 447,572"/><text x="433" y="566.8">hsa-miR-152-3p</text></g>
</g>
</svg>
